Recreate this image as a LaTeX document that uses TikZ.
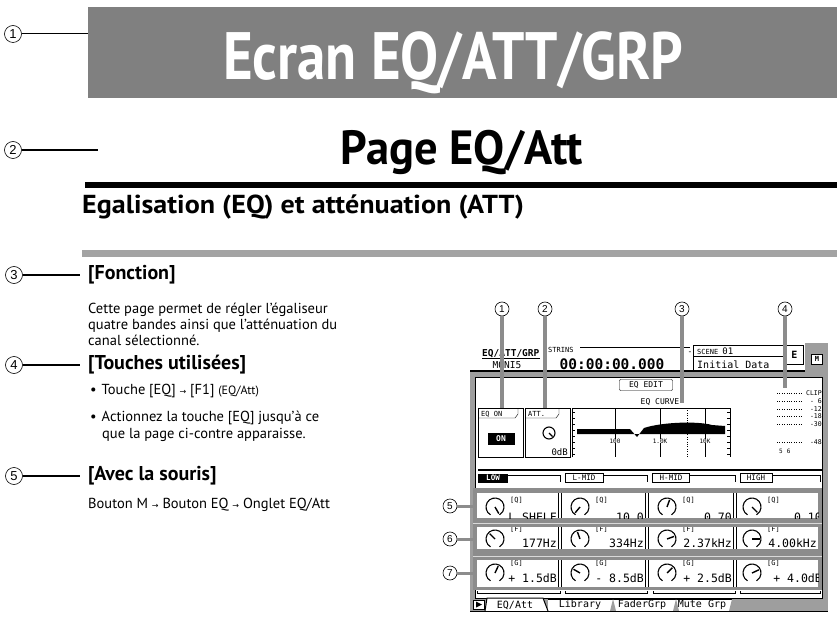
\documentclass[tikz,border=0pt]{standalone}
\usepackage{fontspec}
\setmainfont{PT Sans}
\newfontfamily\condfont[FakeStretch=0.85]{PT Sans}
\newfontfamily\pagefont[FakeStretch=0.97]{PT Sans}
\newfontfamily\sectfont[FakeStretch=1.08]{PT Sans}
\newfontfamily\lcdfont{DejaVu Sans Mono}
\newfontfamily\numfont{Liberation Sans}
\newfontfamily\symfont{DejaVu Sans}
\usetikzlibrary{positioning}
\definecolor{bannergray}{gray}{0.5}
\definecolor{bargray}{gray}{0.64}
\definecolor{leadgray}{gray}{0.55}
\definecolor{panelgray}{gray}{0.55}
\definecolor{dotgray}{gray}{0.62}
\newcommand{\arr}{\ {\symfont\fontsize{8}{8}\selectfont→}\ }
% knob: x, y, pointer angle (as seen)
\newcommand{\knob}[3]{%
  \draw[line width=1.1pt] (#1,#2) ++(120:9) arc[start angle=120,end angle=420,radius=9];
  \draw[line width=1.4pt] (#1,#2) -- ++({-(#3)}:7.5);}

\begin{document}
\begin{tikzpicture}[x=1pt,y=-1pt,
  num/.style={circle,draw,fill=white,line width=0.6pt,inner sep=0pt,minimum size=17pt,font=\numfont\fontsize{13}{13}\selectfont},
  snum/.style={num,minimum size=14pt,font=\numfont\fontsize{10}{10}\selectfont},
  lead/.style={line width=1.3pt},
  glead/.style={leadgray,line width=3.5pt},
  head/.style={anchor=west,inner sep=0pt,font=\bfseries\fontsize{20}{20}\selectfont},
  txt/.style={anchor=base west,inner sep=0pt,font=\fontsize{14.5}{14.5}\selectfont},
  lcd/.style={inner sep=0pt,font=\lcdfont\fontsize{8}{8}\selectfont},
  val/.style={inner sep=0pt,anchor=base east,font=\lcdfont\fontsize{11.5}{11.5}\selectfont},
  tag/.style={inner sep=0pt,anchor=base west,font=\lcdfont\fontsize{7}{7}\selectfont}]
\useasboundingbox (0,0) rectangle (837,617);

% titles
\node[fill=bannergray,minimum width=749,minimum height=91,anchor=north west,inner sep=0pt] (banner) at (88,7) {};
\node[anchor=base,inner sep=0pt,text=white,font=\condfont\bfseries\fontsize{67}{67}\selectfont] (title) at (453,80) {Ecran EQ/ATT/GRP};
\node[num] (n1) at (13,34) {1};
\draw[double=white,double distance=0.7pt,line width=0.8pt] (n1) -- (n1 -| banner.west);
\node[anchor=base,inner sep=0pt,font=\pagefont\bfseries\fontsize{48}{48}\selectfont] (page) at (462,165) {Page EQ/Att};
\node[num] (n2) at (13,150) {2};
\coordinate (e2) at (98,150);
\draw[lead] (n2) -- (e2);
\fill (85,182) rectangle (837,188);
\node[anchor=base west,inner sep=0pt,font=\sectfont\bfseries\fontsize{26}{26}\selectfont] (sect) at (82,214) {Egalisation (EQ) et atténuation (ATT)};
\fill[bargray] (82,250) rectangle (837,257);

% left column
\node[num] (n3) at (14,275) {3};
\node[head] (fonc) at (88,275) {[Fonction]};
\draw[lead,shorten >=8pt] (n3) -- (fonc.west);
\node[txt] (f1) at (88,313) {Cette page permet de régler l’égaliseur};
\node[txt] (f2) at (88,329) {quatre bandes ainsi que l’atténuation du};
\node[txt] (f3) at (88,345) {canal sélectionné.};

\node[num] (n4) at (14,365) {4};
\node[head] (touch) at (88,365) {[Touches utilisées]};
\draw[lead,shorten >=8pt] (n4) -- (touch.west);
\node[txt] (b1) at (90,394) {•\hspace{5pt}Touche [EQ]\arr[F1] {\fontsize{12}{12}\selectfont(EQ/Att)}};
\node[txt] (b2) at (90,421) {•\hspace{5pt}Actionnez la touche [EQ] jusqu’à ce};
\node[txt] (b3) at (102,438) {que la page ci-contre apparaisse.};

\node[num] (n5) at (14,476) {5};
\node[head] (souris) at (88,476) {[Avec la souris]};
\draw[lead,shorten >=8pt] (n5) -- (souris.west);
\node[txt] (s1) at (88,508) {Bouton M\arr Bouton EQ\arr Onglet EQ/Att};

% screen frame
\fill[dotgray] (470,371) rectangle (828,612);
\fill[dotgray] (805,343) rectangle (828,371);
\fill[white] (475,377) rectangle (822,598);
\draw[line width=0.8pt] (475,377) rectangle (822,598);
\draw[line width=1.2pt] (470,371) -- (805,371);

% screen header
\node[inner sep=0pt,anchor=base west,font=\lcdfont\bfseries\fontsize{9.5}{9.5}\selectfont] (hdr) at (482,356) {EQ/ATT/GRP};
\draw (482,358.5) -- (hdr.base east |- 0,358.5);
\node[inner sep=0pt,anchor=base,font=\lcdfont\fontsize{9.5}{9.5}\selectfont] (chan) at (507,368) {MONI5};
\node[lcd,anchor=base west,font=\lcdfont\fontsize{7}{7}\selectfont] (strin) at (548,352) {STRINS};
\draw (580,347) -- (690,347);
\node[inner sep=0pt,anchor=base,font=\lcdfont\bfseries\fontsize{14.5}{14.5}\selectfont] (clock) at (612,369) {00:00:00.000};
\node[lcd] (dash) at (690,353) {-};
\node[draw,minimum width=90,minimum height=26,anchor=north west,inner sep=0pt,line width=0.8pt] (scene) at (693,345) {};
\draw (693,356) -- (783,356);
\node[tag] (scnum) at (697,354) {SCENE {\fontsize{9}{9}\selectfont 01}};
\node[inner sep=0pt,anchor=base west,font=\lcdfont\fontsize{10}{10}\selectfont] (scname) at (697,368) {Initial Data};
\node[draw,minimum width=18,minimum height=19,anchor=north west,inner sep=0pt,line width=0.8pt,font=\lcdfont\bfseries\fontsize{10}{10}\selectfont] (ebox) at (785,345) {E};
\node[draw,fill=white,minimum width=11,minimum height=10,inner sep=0pt,font=\lcdfont\bfseries\fontsize{7}{7}\selectfont] (mbox) at (817,359) {M};

% EQ edit and curve
\node[draw,rounded corners=1pt,minimum width=53,minimum height=11,inner sep=0pt,font=\lcdfont\fontsize{8}{8}\selectfont] (edit) at (646,385) {EQ EDIT};
\node[lcd] (curvelbl) at (660,402) {EQ CURVE};

\node[draw,minimum width=45,minimum height=49,anchor=north west,inner sep=0pt] (eqon) at (478,408) {};
\draw (478,418) -- (515,418) -- (518,414) -- (518,408);
\node[tag,anchor=base west] (eqonlbl) at (481,416) {EQ ON};
\node[fill=black,text=white,minimum width=27,minimum height=12,inner sep=0pt,font=\lcdfont\bfseries\fontsize{8}{8}\selectfont] (onbtn) at (501,439) {ON};

\node[draw,minimum width=45,minimum height=49,anchor=north west,inner sep=0pt] (att) at (525,408) {};
\draw (525,418) -- (556,418) -- (559,414) -- (559,408);
\node[tag,anchor=base west] (attlbl) at (528,416) {ATT.};
\draw[line width=1.1pt] (549,433) circle (6);
\draw[line width=1.3pt] (549,433) -- ++(45:5);
\node[inner sep=0pt,anchor=base east,font=\lcdfont\fontsize{9}{9}\selectfont] (attval) at (568,455) {0dB};

% curve graph
\draw (572,457) -- (572,408) -- (730,408) -- (730,457);
\foreach \ty in {412,418,...,454} {
  \draw (572,\ty) -- (575,\ty);
  \draw (727,\ty) -- (730,\ty);
}
\foreach \gx in {615,660,705} \draw (\gx,408) -- (\gx,457);
\draw[dotted] (687,408) -- (687,457);
\fill (577,429) -- (630,429) -- (637,437) -- (644,428) .. controls (662,422) and (698,421) .. (712,425) -- (725,426) -- (725,434) -- (577,434) -- cycle;
\node[tag,anchor=base,fill=white,font=\lcdfont\fontsize{6}{6}\selectfont] (f100) at (615,443) {100};
\node[tag,anchor=base,fill=white,font=\lcdfont\fontsize{6}{6}\selectfont] (f1k) at (660,443) {1.0K};
\node[tag,anchor=base,fill=white,font=\lcdfont\fontsize{6}{6}\selectfont] (f10k) at (705,443) {10K};

% meter
\foreach \my/\ml in {393/CLIP,401/- 6,409/-12,416/-18,424/-30,442/-48} {
  \draw[dotted] (777,\my) -- (803,\my);
  \node[tag,anchor=east,font=\lcdfont\fontsize{6.5}{6.5}\selectfont] at (822,\my) {\ml};
}
\node[tag,font=\lcdfont\fontsize{6}{6}\selectfont] (chnum) at (779,453) {5\hspace{4pt}6};

% band labels
\draw[line width=1.6pt] (478,470) -- (822,470);
\node[fill=black,text=white,minimum width=30,minimum height=9,inner sep=0pt,font=\lcdfont\bfseries\fontsize{7.5}{7.5}\selectfont] (low) at (493,478) {LOW};
\draw (508,475) -- (560,475) -- (560,482);
\node[draw,minimum width=38,minimum height=9,inner sep=0pt,font=\lcdfont\fontsize{7.5}{7.5}\selectfont] (lmid) at (584,478) {L-MID};
\draw (603,475) -- (647,475) -- (647,482);
\node[draw,minimum width=37,minimum height=9,inner sep=0pt,font=\lcdfont\fontsize{7.5}{7.5}\selectfont] (hmid) at (671,478) {H-MID};
\draw (690,475) -- (735,475) -- (735,482);
\node[draw,minimum width=32,minimum height=9,inner sep=0pt,font=\lcdfont\fontsize{7.5}{7.5}\selectfont] (high) at (756,478) {HIGH};
\draw (772,475) -- (820,475) -- (820,482);

% parameter rows
\fill[panelgray] (473,488) rectangle (822,590);
\draw[gray!30,line width=1pt] (473,523) -- (822,523);
\draw[gray!30,line width=1pt] (473,556) -- (822,556);
\fill[white] (477,493) rectangle (818,518);
\fill[white] (477,527) rectangle (818,549);
\fill[white] (477,560) rectangle (818,587);
\foreach \dx in {560,647,735} {
  \draw[line width=0.9pt] (\dx-1.6,493) -- (\dx-1.6,518) (\dx+1.6,493) -- (\dx+1.6,518);
  \draw[line width=0.9pt] (\dx-1.6,527) -- (\dx-1.6,549) (\dx+1.6,527) -- (\dx+1.6,549);
  \draw[line width=0.9pt] (\dx-1.6,560) -- (\dx-1.6,587) (\dx+1.6,560) -- (\dx+1.6,587);
}
\begin{scope}
\clip (477,493) rectangle (818,518);
\knob{495}{507}{-60} \knob{580}{507}{-130} \knob{667}{507}{70} \knob{752}{507}{-45}
\foreach \lx in {510,595,682,767} \node[tag] at (\lx,502) {[Q]};
\node[val] (q1) at (557,521) {L.SHELF};
\node[val] (q2) at (644,521) {10.0};
\node[val] (q3) at (732,521) {0.70};
\node[val] (q4) at (822,521) {0.10};
\end{scope}
\begin{scope}
\clip (477,527) rectangle (818,549);
\knob{495}{539}{135} \knob{580}{539}{110} \knob{667}{539}{20} \knob{752}{539}{0}
\foreach \lx in {510,595,682,767} \node[tag] at (\lx,531) {[F]};
\node[val] (fr1) at (557,547) {177Hz};
\node[val] (fr2) at (644,547) {334Hz};
\node[val] (fr3) at (732,547) {2.37kHz};
\node[val] (fr4) at (817,547) {4.00kHz};
\end{scope}
\begin{scope}
\clip (477,560) rectangle (818,587);
\knob{495}{573}{65} \knob{580}{573}{150} \knob{667}{573}{45} \knob{752}{573}{25}
\foreach \lx in {510,595,682,767} \node[tag] at (\lx,565) {[G]};
\node[val] (g1) at (557,582) {+ 1.5dB};
\node[val] (g2) at (644,582) {- 8.5dB};
\node[val] (g3) at (732,582) {+ 2.5dB};
\node[val] (g4) at (822,582) {+ 4.0dB};
\end{scope}
\foreach \ba/\bb in {477/560,565/647,653/735,740/820}
  \draw (\ba,591) -- (\ba,593) -- (\bb,593) -- (\bb,591);

% tab bar
\draw[fill=white] (473,600) rectangle (484,609);
\fill (476,601.5) -- (482,604.5) -- (476,607.5) -- cycle;
\fill[white] (548,599) rectangle (732,611);
\draw (548,599) -- (732,599);
\foreach \sx in {610,673} \fill[dotgray] (\sx,611) -- (\sx+3,599) -- (\sx+6,611) -- cycle;
\fill[dotgray] (729,611) -- (732,599) -- (735,611) -- cycle;
\draw[line width=1pt,fill=white] (485,611) -- (487,598) -- (543,598) -- (548,611);
\node[inner sep=0pt,font=\lcdfont\fontsize{10}{10}\selectfont] (tabeq) at (515,605) {EQ/Att};
\node[inner sep=0pt,font=\lcdfont\fontsize{10}{10}\selectfont] (tablib) at (580,605) {Library};
\node[inner sep=0pt,font=\lcdfont\fontsize{10}{10}\selectfont] (tabfad) at (642,605) {FaderGrp};
\node[inner sep=0pt,font=\lcdfont\fontsize{10}{10}\selectfont] (tabmute) at (702,605) {Mute Grp};
\draw (470,611.5) -- (828,611.5);

% screen callouts
\node[snum] (c1) at (502,309) {1};
\node[snum] (c2) at (545,309) {2};
\node[snum] (c3) at (682,309) {3};
\node[snum] (c4) at (785,309) {4};
\coordinate (t1) at (502,408);
\coordinate (t2) at (545,408);
\coordinate (t3) at (682,403);
\coordinate (t4) at (785,388);
\draw[glead] (c1) -- (t1);
\draw[glead] (c2) -- (t2);
\draw[glead] (c3) -- (t3);
\draw[glead] (c4) -- (t4);
\node[snum] (c5) at (450,506) {5};
\node[snum] (c6) at (450,539) {6};
\node[snum] (c7) at (450,573) {7};
\coordinate (t5) at (477,506);
\coordinate (t6) at (477,539);
\coordinate (t7) at (477,573);
\draw[glead,line width=3pt] (c5) -- (t5);
\draw[glead,line width=3pt] (c6) -- (t6);
\draw[glead,line width=3pt] (c7) -- (t7);
\end{tikzpicture}
\end{document}
